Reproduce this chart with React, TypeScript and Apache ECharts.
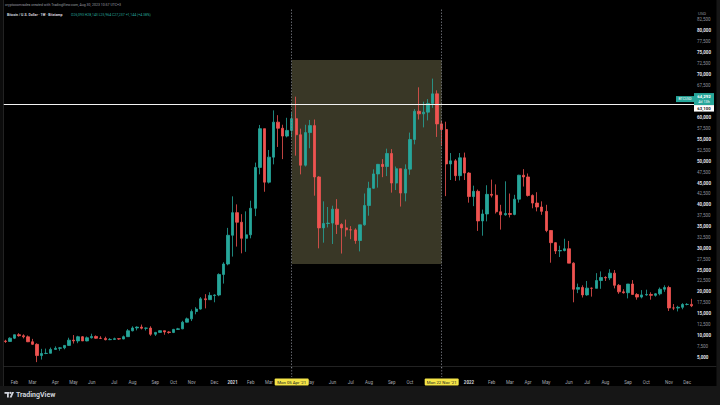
import React, { useEffect, useRef } from "react";
import * as echarts from "echarts";

const firstWeek = "2020-01-20";

// weekly candles: [open, close, low, high]
const candles2020: number[][] = [
  [8700, 8600, 8260, 8990], [8600, 9350, 8550, 9560], [9350, 10150, 9150, 10170], [10150, 9920, 9700, 10500],
  [9920, 9660, 9300, 10250], [9660, 8530, 8450, 9970], [8530, 7940, 7780, 9190], [7940, 5360, 3850, 8180],
  [5360, 5830, 4440, 6900], [5830, 5880, 5680, 6960], [5880, 6780, 5860, 7200], [6780, 7030, 6780, 7470],
  [7030, 7130, 6470, 7300], [7130, 7690, 6800, 7770], [7690, 8900, 7600, 9460], [8900, 8720, 8120, 10070],
  [8720, 9680, 8200, 9900], [9680, 8720, 8700, 9840], [8720, 9450, 8630, 9740], [9450, 9750, 9270, 10380],
  [9750, 9340, 9230, 9990], [9340, 9300, 9200, 9800], [9300, 9010, 8850, 9700], [9010, 9070, 8900, 9370],
  [9070, 9240, 9050, 9470], [9240, 9160, 8970, 9340], [9160, 9700, 9120, 9960], [9700, 11050, 9700, 11450],
  [11050, 11700, 10920, 12080], [11700, 11900, 11150, 12080], [11900, 11640, 11370, 12480], [11640, 11670, 11120, 11800],
  [11670, 10260, 9900, 12090], [10260, 10680, 9870, 10790], [10680, 11080, 10650, 11180], [11080, 10780, 10140, 11080],
  [10780, 10670, 10380, 10950], [10670, 11370, 10520, 11490], [11370, 11500, 11240, 11720], [11500, 13030, 11410, 13350],
  [13030, 13790, 12970, 14090], [13790, 15480, 13290, 15950], [15480, 16050, 14840, 16480], [16050, 18400, 15900, 18800],
  [18400, 18200, 16200, 19470], [18200, 19170, 18150, 19900], [19170, 19270, 17600, 19420], [19270, 24000, 19000, 24250],
  [24000, 26400, 21900, 26800], [26400, 33000, 26100, 34700],
];

const candles2021: number[][] = [
  [33000, 38200, 28100, 41950], [38200, 36000, 30400, 40100], [36000, 32300, 28850, 37850], [32300, 33100, 29200, 38500],
  [33100, 39200, 32300, 40950], [39200, 48600, 37400, 49700], [48600, 57500, 47000, 58350], [57500, 45200, 43000, 57500],
  [45200, 50950, 44900, 52600], [50950, 59000, 49300, 61700], [59000, 57600, 53300, 60600], [57600, 55800, 50500, 58400],
  [55800, 57100, 55500, 60000], [57100, 59800, 55500, 61200], [59800, 56100, 51300, 64850], [56100, 49100, 47000, 57500],
  [49100, 56600, 48800, 58400], [56600, 58200, 53000, 59500], [58200, 46400, 42100, 59600], [46400, 34700, 30000, 46600],
  [34700, 35700, 31300, 40800], [35700, 35800, 34800, 39500], [35800, 39000, 31000, 39800], [39000, 35500, 33300, 41300],
  [35500, 34700, 28800, 35750], [34700, 34250, 32700, 36600], [34250, 34240, 32100, 35100], [34240, 31800, 31050, 34600],
  [31800, 35400, 29300, 35400], [35400, 39850, 35200, 42600], [39850, 43800, 37500, 45300], [43800, 47100, 43700, 48150],
  [47100, 49300, 43950, 49400], [49300, 48800, 46350, 50500], [48800, 51800, 46600, 52900], [51800, 45000, 42800, 52800],
  [45000, 48300, 43400, 48800], [48300, 42700, 39600, 48300], [42700, 48200, 40800, 49300], [48200, 55000, 46900, 56600],
  [55000, 61500, 53900, 62000], [61500, 60900, 59600, 67000], [60900, 61300, 57800, 63700], [61300, 63300, 59400, 64300],
  [63300, 65500, 62300, 69000], [65500, 58600, 55600, 66300], [58600, 57300, 53500, 59300], [57300, 49400, 42000, 59100],
  [49400, 50100, 45700, 51900], [50100, 46700, 45500, 50500], [46700, 50800, 45600, 51900], [50800, 47300, 45700, 52000],
];

const candles2022: number[][] = [
  [47300, 41900, 40500, 47500], [41900, 43100, 39700, 44400], [43100, 36300, 34000, 43500], [36300, 37900, 32900, 38900],
  [37900, 42400, 36200, 44500], [42400, 42200, 41700, 45800], [42200, 38400, 38000, 44700], [38400, 37700, 34300, 40000],
  [37700, 38000, 37500, 45400], [38000, 37800, 37100, 42600], [37800, 41300, 37600, 42300], [41300, 46800, 40500, 46900],
  [46800, 46400, 44200, 48200], [46400, 42150, 41900, 47200], [42150, 40400, 39200, 42400], [40400, 39500, 38500, 42900],
  [39500, 38500, 37700, 40800], [38500, 34100, 33700, 40000], [34100, 31300, 26700, 34200], [31300, 29400, 28700, 31400],
  [29400, 29500, 28000, 30600], [29500, 29900, 29300, 32200], [29900, 26600, 26600, 31700], [26600, 20600, 17600, 26800],
  [20600, 21000, 19700, 21900], [21000, 19300, 18700, 21500], [19300, 20850, 19100, 22500], [20850, 20800, 18900, 21000],
  [20800, 22600, 20800, 24300], [22600, 23300, 20700, 24700], [23300, 23200, 22500, 23600], [23200, 24300, 22700, 25200],
  [24300, 21500, 20800, 25000], [21500, 20000, 19550, 21800], [20000, 19800, 19600, 20600], [19800, 21800, 18500, 21800],
  [21800, 19400, 19400, 22700], [19400, 18800, 18200, 19700], [18800, 19300, 18500, 20400], [19300, 19400, 19100, 20500],
  [19400, 19200, 18200, 19900], [19200, 19550, 18900, 19700], [19550, 20600, 19200, 21000], [20600, 21000, 20000, 21500],
  [21000, 16300, 15600, 21400], [16300, 16280, 15800, 17200], [16280, 16450, 15500, 16800], [16450, 17100, 16000, 17400],
  [17100, 17120, 16900, 17400], [17120, 16800, 16500, 18400],
];

const monthNames = ["Jan", "Feb", "Mar", "Apr", "May", "Jun", "Jul", "Aug", "Sep", "Oct", "Nov", "Dec"];
const priceMin = 2500;
const priceMax = 85000;
const priceStep = 2500;
const hiddenPriceTicks = [2500, 62500, 65000, 85000];
const hiddenMonthWeeks = ["2021-04-05", "2021-11-01", "2021-12-06"];

const rangeStart = "2021-04-05";
const rangeEnd = "2021-11-22";
const rangeStartLabel = "Mon 05 Apr '21";
const rangeEndLabel = "Mon 22 Nov '21";
const boxHigh = 73300;
const boxLow = 26400;
const horizontalLevel = 63100;
const horizontalLabel = "63,100";
const lastPrice = 64300;
const lastPriceLabel = "64,292";
const countdownLabel = "4d 13h";
const symbolTag = "BTCUSD";

const headerCredit = "cryptocomrades created with TradingView.com, Aug 30, 2023 10:57 UTC+3";
const headerSymbol = "Bitcoin / U.S. Dollar · 1W · Bitstamp";
const headerValues = "O26,093 H28,143 L25,964 C27,237 +1,144 (+4.38%)";

const UP = "#26a69a";
const DOWN = "#ef5350";
const FONT = "Roboto, 'Noto Sans', sans-serif";

const candles = [...candles2020, ...candles2021, ...candles2022];
const weekStart = Date.parse(firstWeek + "T00:00:00Z");
const weeks = candles.map((_, i) => new Date(weekStart + i * 7 * 86400000).toISOString().slice(0, 10));

const isMonthStart = (v: string) => Number(v.slice(8, 10)) <= 7 && !hiddenMonthWeeks.includes(v);

export default function App() {
  const ref = useRef<HTMLDivElement>(null);
  useEffect(() => {
    if (!ref.current) return;
    const chart = echarts.init(ref.current, null, { renderer: "svg" });
    const option: any = {
      animation: false,
      backgroundColor: "#000000",
      grid: { left: 3, right: 26, top: 9, bottom: 37 },
      xAxis: {
        type: "category",
        data: weeks,
        boundaryGap: true,
        axisLine: { show: false },
        axisTick: { show: false },
        splitLine: { show: false },
        axisLabel: {
          interval: (_i: number, v: string) => isMonthStart(v),
          formatter: (v: string) => {
            const m = Number(v.slice(5, 7));
            if (m === 1) return `{y|${v.slice(0, 4)}}`;
            return `{m|${monthNames[m - 1]}}`;
          },
          margin: 11.5,
          hideOverlap: false,
          rich: {
            y: { color: "#d1d4dc", fontSize: 4.5, fontWeight: "bold", fontFamily: FONT },
            m: { color: "#a3a6af", fontSize: 4.5, fontFamily: FONT },
          },
        },
      },
      yAxis: {
        type: "value",
        position: "right",
        min: priceMin,
        max: priceMax,
        interval: priceStep,
        axisLine: { show: false },
        axisTick: { show: false },
        splitLine: { show: false },
        axisLabel: {
          margin: 3,
          formatter: (v: number) => {
            if (hiddenPriceTicks.includes(v)) return "";
            const s = v.toLocaleString("en-US");
            return v % 5000 === 0 ? `{b|${s}}` : `{n|${s}}`;
          },
          rich: {
            b: { color: "#e0e3eb", fontSize: 4.5, fontWeight: "bold", fontFamily: FONT },
            n: { color: "#8f929b", fontSize: 4.5, fontFamily: FONT },
          },
        },
      },
      series: [
        {
          type: "candlestick",
          data: candles,
          barWidth: "64%",
          itemStyle: { color: UP, color0: DOWN, borderColor: UP, borderColor0: DOWN, borderWidth: 0.8 },
          markArea: {
            silent: true,
            itemStyle: { color: "#393726" },
            data: [[{ coord: [rangeStart, boxHigh] }, { coord: [rangeEnd, boxLow] }]],
          },
          markLine: {
            silent: true,
            symbol: ["none", "none"],
            label: { show: false },
            data: [
              { xAxis: rangeStart, lineStyle: { color: "#8a8d96", type: [1.5, 1.5], width: 0.7 } },
              { xAxis: rangeEnd, lineStyle: { color: "#8a8d96", type: [1.5, 1.5], width: 0.7 } },
              { yAxis: horizontalLevel, lineStyle: { color: "#f2f2f2", type: "solid", width: 1 } },
            ],
          },
        },
      ],
    };
    chart.setOption(option);

    const xs = chart.convertToPixel({ xAxisIndex: 0 }, rangeStart) as number;
    const xe = chart.convertToPixel({ xAxisIndex: 0 }, rangeEnd) as number;
    const yLine = chart.convertToPixel({ yAxisIndex: 0 }, horizontalLevel) as number;
    const yLast = chart.convertToPixel({ yAxisIndex: 0 }, lastPrice) as number;

    const txt = (x: number, y: number, text: string, fill: string, size: number, extra: any = {}) => ({
      type: "text",
      silent: true,
      z: 100,
      x,
      y,
      style: { text, fill, fontSize: size, fontFamily: FONT, verticalAlign: "middle", ...extra },
    });
    const rect = (x: number, y: number, w: number, h: number, fill: string, extra: any = {}) => ({
      type: "rect",
      silent: true,
      z: 99,
      shape: { x, y, width: w, height: h, ...extra },
      style: { fill },
    });

    const dateBox = (cx: number, label: string) => [
      rect(cx - 17, 378.5, 34, 7, "#f4e447", { r: 1 }),
      txt(cx, 382.2, label, "#131722", 4.3, { align: "center" }),
    ];

    chart.setOption({
      graphic: [
        rect(0, 386, 720, 19, "#161616"),
        rect(0, 0, 3, 386, "#0c0c0c"),
        rect(716.5, 0, 3.5, 386, "#161616"),
        { type: "line", silent: true, z: 98, shape: { x1: 3.5, y1: 0, x2: 3.5, y2: 386 }, style: { stroke: "#2b2b2b", lineWidth: 0.8 } },
        { type: "line", silent: true, z: 98, shape: { x1: 3, y1: 366.5, x2: 716.5, y2: 366.5 }, style: { stroke: "#2b2b2b", lineWidth: 0.8 } },
        txt(5, 4.5, headerCredit, "#9a9da6", 3.5),
        txt(7, 14.5, headerSymbol, "#d1d4dc", 3.5, { fontWeight: "bold" }),
        txt(71, 14.5, headerValues, UP, 3.5),
        txt(698, 13, "USD", "#8f929b", 4.3),
        // symbol tag + last price label
        rect(676, yLast - 3, 18, 6, UP),
        txt(685, yLast + 0.2, symbolTag, "#ffffff", 3.5, { align: "center" }),
        rect(694, yLast - 6, 20, 12, UP),
        txt(704, yLast - 2.5, lastPriceLabel, "#ffffff", 4.3, { align: "center", fontWeight: "bold" }),
        txt(704, yLast + 2.7, countdownLabel, "#ffffff", 3.8, { align: "center" }),
        // horizontal line label
        rect(694, yLast + 6, 20, 6.5, "#ffffff"),
        txt(704, yLast + 9.3, horizontalLabel, "#131722", 4.3, { align: "center", fontWeight: "bold" }),
        // time axis date boxes
        ...dateBox(xs, rangeStartLabel),
        ...dateBox(xe, rangeEndLabel),
        { type: "line", silent: true, z: 98, shape: { x1: xs, y1: 367, x2: xs, y2: 377 }, style: { stroke: "#8a8d96", lineWidth: 0.7, lineDash: [1.5, 1.5] } },
        { type: "line", silent: true, z: 98, shape: { x1: xe, y1: 367, x2: xe, y2: 377 }, style: { stroke: "#8a8d96", lineWidth: 0.7, lineDash: [1.5, 1.5] } },
        // TradingView logo
        rect(4.5, 392, 5, 1.8, "#d1d4dc"),
        rect(7, 392, 1.8, 5.6, "#d1d4dc"),
        { type: "circle", silent: true, z: 99, shape: { cx: 10.6, cy: 392.9, r: 0.9 }, style: { fill: "#d1d4dc" } },
        { type: "polygon", silent: true, z: 99, shape: { points: [[12, 392], [14, 392], [11.6, 397.6], [9.6, 397.6]] }, style: { fill: "#d1d4dc" } },
        txt(16, 395, "TradingView", "#d1d4dc", 7, { fontWeight: "bold" }),
      ],
    });
    void yLine;
    return () => chart.dispose();
  }, []);
  return <div ref={ref} style={{ width: 720, height: 405, position: "absolute", left: 0, top: 0 }} />;
}
